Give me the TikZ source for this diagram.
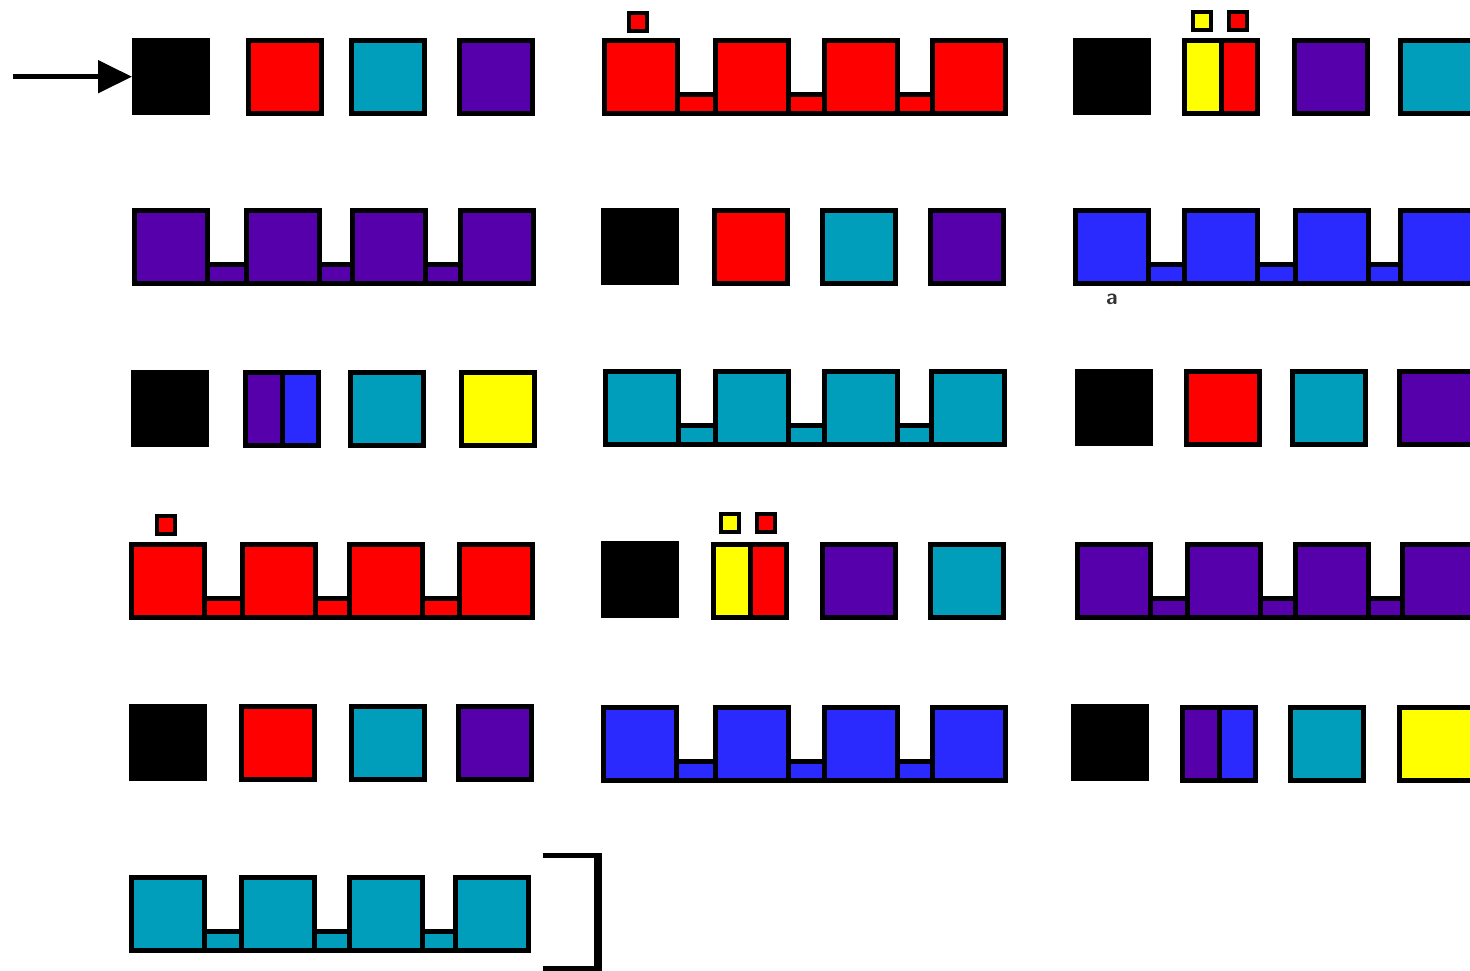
\documentclass[tikz,border=0pt]{standalone}
\usetikzlibrary{arrows.meta}
\definecolor{cred}{RGB}{255,0,0}
\definecolor{ccyan}{RGB}{0,158,186}
\definecolor{cpurp}{RGB}{85,0,170}
\definecolor{cblue}{RGB}{42,42,255}
\definecolor{cyel}{RGB}{255,255,0}
\definecolor{cgray}{RGB}{50,50,50}
\tikzset{
  bx/.style={draw=black,line width=5pt,line join=miter},
  smallbx/.style={draw=black,line width=4.5pt},
  blacksq/.style={fill=black,draw=none,minimum width=78pt,minimum height=77pt,inner sep=0pt,anchor=north west},
  arr/.style={line width=5pt,-{Triangle[length=34pt,width=32pt]}},
  lbl/.style={font=\sffamily\bfseries\fontsize{22}{22}\selectfont,text=cgray,inner sep=0pt}
}
% colored square: x, y (outer top-left), colour
\newcommand\csq[3]{\draw[bx,fill=#3] ({#1+2},{#2+2}) rectangle ++(73,73);}
% black square
\newcommand\ksq[2]{\fill[black] (#1,#2) rectangle ++(78,77);}
% split square: x, y, left colour, right colour
\newcommand\ssq[4]{\fill[#3] ({#1+2},{#2+2}) rectangle ++(37,73);
  \fill[#4] ({#1+39},{#2+2}) rectangle ++(36,73);
  \draw[bx] ({#1+2},{#2+2}) rectangle ++(73,73);
  \draw[bx] ({#1+39},{#2+2}) -- ++(0,73);}
% small square above
\newcommand\tsq[3]{\draw[smallbx,fill=#3] ({#1+2},{#2+2}) rectangle ++(18,18);}
% comb: y, colour, x1, x2, x3, x4
\newcommand\comb[6]{\draw[bx,fill=#2] ({#3+2},{#1+56}) rectangle ({#6+75},{#1+75});
  \csq{#3}{#1}{#2}\csq{#4}{#1}{#2}\csq{#5}{#1}{#2}\csq{#6}{#1}{#2}}
\begin{document}
\begin{tikzpicture}[x=1pt,y=-1pt]
\useasboundingbox (0,0) rectangle (1470,971);
\clip (0,0) rectangle (1470,971);
% ---------- row 1 ----------
\node[blacksq] (k1) at (132,38) {};
\coordinate (start) at (13,76.5);
\draw[arr] (start |- k1.west) -- (k1.west);
\csq{246}{39}{cred}\csq{349}{39}{ccyan}\csq{457}{39}{cpurp}
\comb{39}{cred}{602}{713}{822}{930}
\tsq{627}{11}{cred}
\ksq{1073}{38}
\ssq{1182}{39}{cyel}{cred}
\tsq{1191}{10}{cyel}\tsq{1227}{10}{cred}
\csq{1292}{39}{cpurp}\csq{1398}{39}{ccyan}
% ---------- row 2 ----------
\comb{208}{cpurp}{132}{244}{350}{458}
\ksq{601}{208}
\csq{712}{208}{cred}\csq{820}{208}{ccyan}\csq{928}{208}{cpurp}
\comb{208}{cblue}{1073}{1182}{1293}{1398}
\node[lbl] (la) at (1112,299) {a};
% ---------- row 3 ----------
\ksq{131}{370}
\ssq{243}{370}{cpurp}{cblue}
\csq{348}{370}{ccyan}\csq{459}{370}{cyel}
\comb{369}{ccyan}{603}{713}{822}{929}
\ksq{1075}{369}
\csq{1184}{369}{cred}\csq{1290}{369}{ccyan}\csq{1397}{369}{cpurp}
% ---------- row 4 ----------
\comb{542}{cred}{129}{240}{347}{457}
\tsq{155}{514}{cred}
\ksq{601}{541}
\ssq{711}{542}{cyel}{cred}
\tsq{719}{512}{cyel}\tsq{755}{512}{cred}
\csq{820}{542}{cpurp}\csq{928}{542}{ccyan}
\comb{542}{cpurp}{1075}{1185}{1293}{1400}
% ---------- row 5 ----------
\ksq{129}{704}
\csq{239}{704}{cred}\csq{349}{704}{ccyan}\csq{456}{704}{cpurp}
\comb{705}{cblue}{601}{713}{822}{930}
\ksq{1071}{704}
\ssq{1180}{705}{cpurp}{cblue}
\csq{1288}{705}{ccyan}\csq{1397}{705}{cyel}
% ---------- row 6 ----------
\comb{875}{ccyan}{129}{239}{347}{453}
% bracket
\fill[black] (543,853) rectangle (602,858);
\fill[black] (543,966) rectangle (602,971);
\fill[black] (594,853) rectangle (602,971);
\end{tikzpicture}
\end{document}
